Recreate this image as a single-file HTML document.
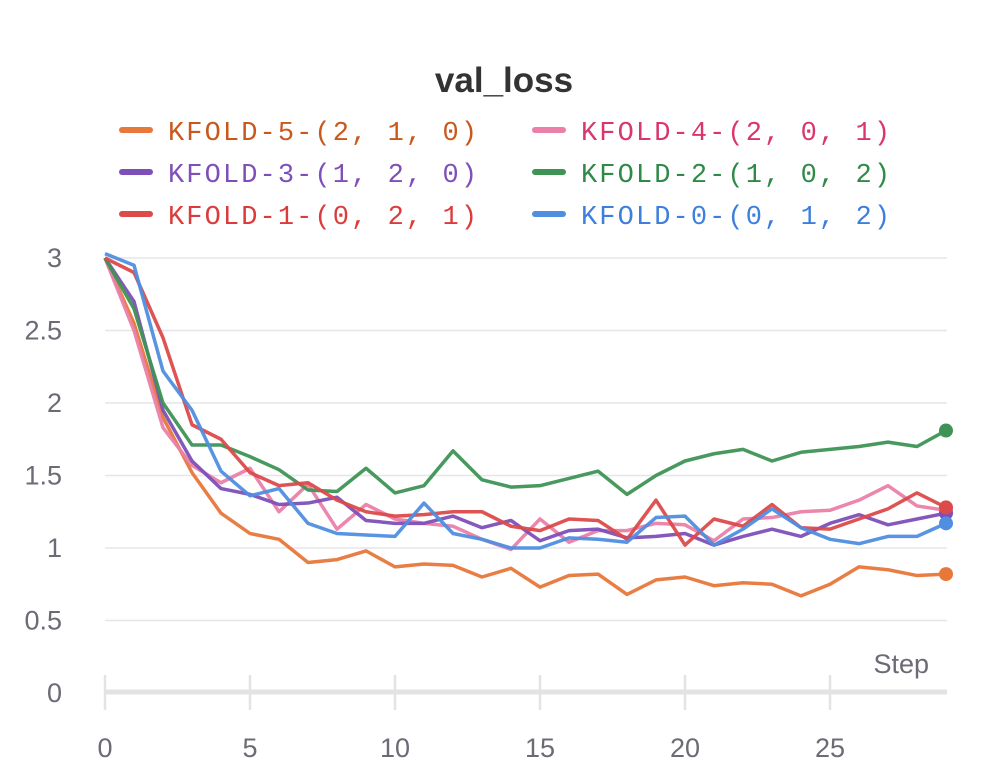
<!DOCTYPE html>
<html><head><meta charset="utf-8"><style>
body{margin:0;background:#fff;width:1008px;height:783px;overflow:hidden}
svg{display:block}
.tk{font-family:"Liberation Sans",sans-serif;font-size:27px;fill:#6b6b76}
.lg{font-family:"Liberation Mono",monospace;font-size:27px;letter-spacing:2.1px}
</style></head><body>
<svg id="chart" width="1008" height="783">
<text x="504" y="92" text-anchor="middle" font-family="Liberation Sans,sans-serif" font-weight="bold" font-size="35" fill="#333">val_loss</text>
<g id="grid"></g>
<g id="yt"></g>
<g id="xt"></g>
<text x="929" y="673" text-anchor="end" class="tk">Step</text>
<g id="series"></g>
<g id="legend"></g>
</svg>
<script>
const steps = Array.from({length:30},(_,i)=>i);
const names = ["KFOLD-5-(2, 1, 0)","KFOLD-4-(2, 0, 1)","KFOLD-3-(1, 2, 0)","KFOLD-2-(1, 0, 2)","KFOLD-1-(0, 2, 1)","KFOLD-0-(0, 1, 2)"];
const colors = ["#e8773a","#ea7fa8","#7e4fb8","#3e9455","#dc4a4a","#4f8ee0"];
const textColors = ["#c9581d","#d9376c","#7e4fb8","#2f8a48","#dc3b3b","#3d7fdc"];
const kfold5 = [3.0,2.55,1.9,1.52,1.24,1.1,1.06,0.9,0.92,0.98,0.87,0.89,0.88,0.80,0.86,0.73,0.81,0.82,0.68,0.78,0.80,0.74,0.76,0.75,0.67,0.75,0.87,0.85,0.81,0.82];
const kfold4 = [3.0,2.5,1.83,1.57,1.45,1.55,1.25,1.44,1.13,1.30,1.20,1.17,1.15,1.06,0.99,1.20,1.04,1.12,1.12,1.17,1.16,1.05,1.20,1.21,1.25,1.26,1.33,1.43,1.29,1.26];
const kfold3 = [3.0,2.7,1.95,1.60,1.41,1.37,1.30,1.31,1.35,1.19,1.17,1.17,1.22,1.14,1.19,1.05,1.12,1.13,1.07,1.08,1.10,1.02,1.08,1.13,1.08,1.17,1.23,1.16,1.20,1.24];
const kfold2 = [3.0,2.65,2.0,1.71,1.71,1.63,1.54,1.40,1.39,1.55,1.38,1.43,1.67,1.47,1.42,1.43,1.48,1.53,1.37,1.50,1.60,1.65,1.68,1.60,1.66,1.68,1.70,1.73,1.70,1.81];
const kfold1 = [3.0,2.9,2.45,1.85,1.75,1.52,1.43,1.45,1.33,1.25,1.22,1.23,1.25,1.25,1.15,1.12,1.20,1.19,1.06,1.33,1.02,1.20,1.15,1.30,1.14,1.13,1.20,1.27,1.38,1.28];
const kfold0 = [3.03,2.95,2.22,1.95,1.53,1.36,1.41,1.17,1.10,1.09,1.08,1.31,1.10,1.06,1.00,1.00,1.07,1.06,1.04,1.21,1.22,1.02,1.13,1.27,1.14,1.06,1.03,1.08,1.08,1.17];
const yTicks = [0,0.5,1,1.5,2,2.5,3];
const yTickLabels = ["0","0.5","1","1.5","2","2.5","3"];
const xTicks = [0,5,10,15,20,25];
const seriesData = [kfold5,kfold4,kfold3,kfold2,kfold1,kfold0];
const drawOrder = [0,1,2,3,4,5];

const NS="http://www.w3.org/2000/svg";
const X = v => 105 + v*29;
const Y = v => 693 - v*145;
function mk(tag, attrs, parent){const e=document.createElementNS(NS,tag);for(const k in attrs)e.setAttribute(k,attrs[k]);parent.appendChild(e);return e;}
const grid=document.getElementById('grid'), yt=document.getElementById('yt'), xt=document.getElementById('xt'), sg=document.getElementById('series'), lg=document.getElementById('legend');
yTicks.forEach((t,i)=>{
  if(t>0){const l=mk('line',{x1:105,x2:947,y1:Y(t),y2:Y(t),stroke:'#e6e6e9','stroke-width':1.5},grid);
  
  }
  const tx=mk('text',{x:62,y:Y(t)+9,'text-anchor':'end',class:'tk'},yt);tx.textContent=yTickLabels[i];
  
  
});
const ax=mk('line',{x1:105,x2:947,y1:692,y2:692,stroke:'#e3e3e6','stroke-width':5},xt);


xTicks.forEach(t=>{
  const l=mk('line',{x1:X(t),x2:X(t),y1:675,y2:710,stroke:'#e3e3e6','stroke-width':2.5},xt);
  
  
  const tx=mk('text',{x:X(t),y:757,'text-anchor':'middle',class:'tk'},xt);tx.textContent=String(t);
  
  
});
drawOrder.forEach(si=>{
  const d=seriesData[si];
  const p=mk('polyline',{points:d.map((v,i)=>X(steps[i])+','+Y(v)).join(' '),fill:'none',stroke:colors[si],'stroke-width':3.5,'stroke-linejoin':'round',opacity:0.95},sg);
  
  
  const last=d.length-1;
  const c=mk('circle',{cx:X(steps[last]),cy:Y(d[last]),r:7,fill:colors[si]},sg);
  
  
});
names.forEach((n,i)=>{
  const col=i%2, row=Math.floor(i/2);
  const x0=col===0?122:535, y0=130+row*42;
  const g=mk('g',{},lg);
  
  
  mk('line',{x1:x0,x2:x0+28,y1:y0,y2:y0,stroke:colors[i],'stroke-width':6,'stroke-linecap':'round'},g);
  const t=mk('text',{x:x0+46,y:y0+10,fill:textColors[i],class:'lg'},g);t.textContent=n;
});
</script>
</body></html>
